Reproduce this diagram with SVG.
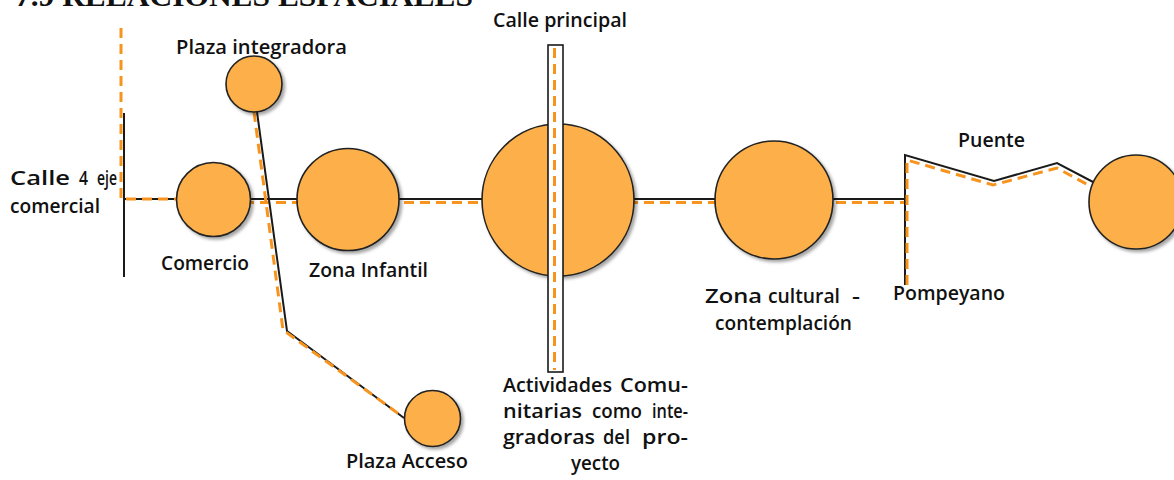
<svg xmlns="http://www.w3.org/2000/svg" width="1174" height="480" viewBox="0 0 1174 480">
<defs>
<filter id="sh" x="-20%" y="-20%" width="150%" height="150%">
<feDropShadow dx="2.5" dy="2.5" stdDeviation="1.8" flood-color="#000" flood-opacity="0.35"/>
</filter>
<style>
.t{font-family:"Open Sans","Noto Sans","DejaVu Sans",sans-serif;font-size:20px;font-weight:600;fill:#111;}
.ttl{font-family:"Liberation Serif","Times New Roman",serif;font-size:30px;font-weight:bold;fill:#111;}
.n{fill:#FDB04A;stroke:#222;stroke-width:1.6;filter:url(#sh);}
.k{fill:none;stroke:#1a1a1a;stroke-width:2;}
.o{fill:none;stroke:#F7941D;stroke-width:3;stroke-dasharray:10 6;}
</style>
</defs>
<rect width="1174" height="480" fill="#fff"/>
<text class="ttl" x="15" y="6" textLength="458" lengthAdjust="spacingAndGlyphs">7.9 RELACIONES ESPACIALES</text>

<g id="connectors">
<line class="k" x1="124" y1="113" x2="124" y2="277"/>
<line class="k" x1="124" y1="199" x2="905" y2="199"/>
<polyline class="o" points="121,28 121,199 180,199"/>
<line class="o" x1="180" y1="202.5" x2="905" y2="202.5"/>
<polyline class="k" points="905,285 905,155 994,181 1057,163 1095,183"/>
<polyline class="o" points="907,285 907,160 993,185 1057,168 1092,187"/>
<polyline class="k" points="257,112 287,331 404,418"/>
<polyline class="o" points="254,112 283,330 403,417"/>
</g>

<g id="plaza-integradora">
<circle class="n" cx="254" cy="84" r="28"/>
<text class="t" x="176" y="54" textLength="171" lengthAdjust="spacingAndGlyphs">Plaza integradora</text>
</g>
<g id="calle4">
<text class="t" x="10" y="185" textLength="60" lengthAdjust="spacingAndGlyphs">Calle</text>
<text class="t" x="79" y="185" textLength="9" lengthAdjust="spacingAndGlyphs">4</text>
<text class="t" x="97" y="185" textLength="20" lengthAdjust="spacingAndGlyphs">eje</text>
<text class="t" x="10" y="213" textLength="90" lengthAdjust="spacingAndGlyphs">comercial</text>
</g>
<g id="comercio">
<circle class="n" cx="213.5" cy="199.5" r="37"/>
<text class="t" x="161" y="270" textLength="88" lengthAdjust="spacingAndGlyphs">Comercio</text>
</g>
<g id="zona-infantil">
<circle class="n" cx="348" cy="199.5" r="51"/>
<text class="t" x="309" y="277" textLength="119" lengthAdjust="spacingAndGlyphs">Zona Infantil</text>
</g>
<g id="plaza-acceso">
<circle class="n" cx="432.5" cy="418.5" r="28"/>
<text class="t" x="346" y="468" textLength="122" lengthAdjust="spacingAndGlyphs">Plaza Acceso</text>
</g>
<g id="actividades">
<circle class="n" cx="558" cy="200" r="76"/>
<text class="t" x="503" y="392" textLength="109" lengthAdjust="spacingAndGlyphs">Actividades</text>
<text class="t" x="620" y="392" textLength="68" lengthAdjust="spacingAndGlyphs">Comu-</text>
<text class="t" x="503" y="418" textLength="79" lengthAdjust="spacingAndGlyphs">nitarias</text>
<text class="t" x="592" y="418" textLength="50" lengthAdjust="spacingAndGlyphs">como</text>
<text class="t" x="652" y="418" textLength="36" lengthAdjust="spacingAndGlyphs">inte-</text>
<text class="t" x="503" y="444" textLength="92" lengthAdjust="spacingAndGlyphs">gradoras</text>
<text class="t" x="603" y="444" textLength="27" lengthAdjust="spacingAndGlyphs">del</text>
<text class="t" x="642" y="444" textLength="46" lengthAdjust="spacingAndGlyphs">pro-</text>
<text class="t" x="571" y="470" textLength="49" lengthAdjust="spacingAndGlyphs">yecto</text>
</g>
<g id="calle-principal">
<rect x="548" y="45" width="15" height="327" fill="#fff" stroke="#1a1a1a" stroke-width="1.6"/>
<line class="o" x1="554.5" y1="48" x2="554.5" y2="370" stroke-width="2.5"/>
<text class="t" x="493" y="27" textLength="134" lengthAdjust="spacingAndGlyphs">Calle principal</text>
</g>
<g id="zona-cultural">
<circle class="n" cx="774" cy="200" r="59"/>
<text class="t" x="705" y="303" textLength="57" lengthAdjust="spacingAndGlyphs">Zona</text>
<text class="t" x="768" y="303" textLength="72" lengthAdjust="spacingAndGlyphs">cultural</text>
<text class="t" x="852" y="303" textLength="8" lengthAdjust="spacingAndGlyphs">-</text>
<text class="t" x="715" y="330" textLength="137" lengthAdjust="spacingAndGlyphs">contemplación</text>
</g>
<g id="pompeyano">
<text class="t" x="893" y="300" textLength="112" lengthAdjust="spacingAndGlyphs">Pompeyano</text>
</g>
<g id="puente">
<text class="t" x="958" y="147" textLength="67" lengthAdjust="spacingAndGlyphs">Puente</text>
</g>
<g id="destino">
<circle class="n" cx="1136" cy="202" r="47"/>
</g>
</svg>
